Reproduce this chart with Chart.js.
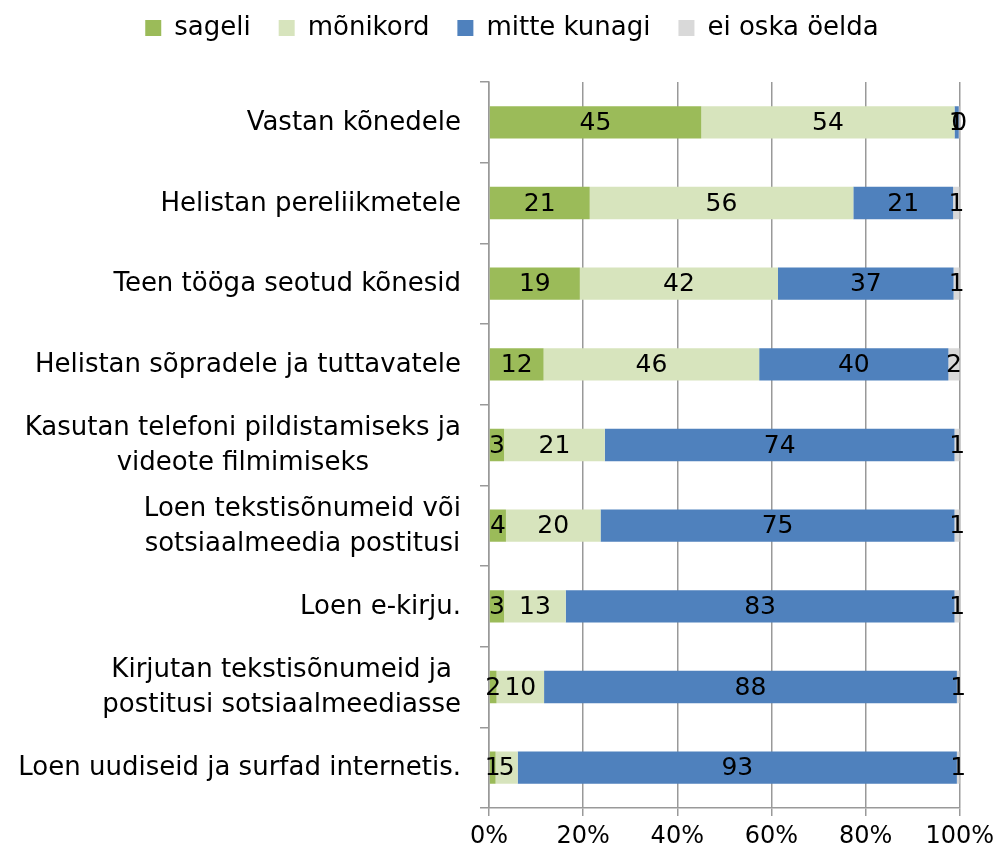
<!DOCTYPE html>
<html>
<head>
<meta charset="utf-8">
<script src="https://cdn.jsdelivr.net/npm/chart.js@4.4.1/dist/chart.umd.min.js"></script>
<style>
  html, body { margin: 0; padding: 0; background: #ffffff; }
  #wrap { width: 1000px; height: 854px; }
</style>
</head>
<body>
<div id="wrap"><canvas id="c" width="1000" height="854"></canvas></div>
<script>
const categories = [
  "Vastan kõnedele",
  "Helistan pereliikmetele",
  "Teen tööga seotud kõnesid",
  "Helistan sõpradele ja tuttavatele",
  ["Kasutan telefoni pildistamiseks ja", "videote filmimiseks"],
  ["Loen tekstisõnumeid või", "sotsiaalmeedia postitusi"],
  "Loen e-kirju.",
  ["Kirjutan tekstisõnumeid ja", "postitusi sotsiaalmeediasse"],
  "Loen uudiseid ja surfad internetis."
];
const seriesNames = ["sageli", "mõnikord", "mitte kunagi", "ei oska öelda"];
const sageli      = [45.1, 21.4, 19.3, 11.6, 3.2, 3.6, 3.2, 1.6, 1.4];
const monikord    = [53.8, 56.0, 42.1, 45.8, 21.4, 20.1, 13.1, 10.1, 4.7];
const mitteKunagi = [0.9, 21.2, 37.3, 40.2, 74.3, 75.2, 82.6, 87.7, 93.3];
const eiOska      = [0.2, 1.4, 1.3, 2.4, 1.1, 1.1, 1.1, 0.6, 0.6];
const xTicks = [0, 20, 40, 60, 80, 100];

const colors = ["#9BBB59", "#D7E4BD", "#4F81BD", "#D9D9D9"];
const FONT = "'DejaVu Sans', Verdana, sans-serif";

const PLOT_LEFT = 489, PLOT_BOTTOM = 808, PLOT_RIGHT = 960, PAD_LEFT = 64;

const legendSpacer = {
  id: 'legendSpacer',
  beforeInit(chart) {
    const fit = chart.legend.fit;
    chart.legend.fit = function () {
      fit.call(this);
      this.height += 31;
    };
  }
};

const valueLabels = {
  id: 'valueLabels',
  afterDatasetsDraw(chart) {
    const ctx = chart.ctx;
    ctx.save();
    ctx.font = "25px " + FONT;
    ctx.fillStyle = "#000000";
    ctx.textAlign = "center";
    ctx.textBaseline = "middle";
    chart.data.datasets.forEach((ds, di) => {
      const meta = chart.getDatasetMeta(di);
      meta.data.forEach((el, i) => {
        const p = el.getProps(['x', 'base', 'y'], true);
        const cx = (p.x + p.base) / 2;
        ctx.fillText(String(Math.round(ds.data[i])), cx, p.y + 1);
      });
    });
    ctx.restore();
  }
};

const yLabels = {
  id: 'yLabels',
  afterDraw(chart) {
    const ctx = chart.ctx;
    const scale = chart.scales.y;
    ctx.save();
    ctx.font = "26px " + FONT;
    ctx.fillStyle = "#000000";
    ctx.textAlign = "center";
    ctx.textBaseline = "middle";
    const right = scale.right - 28;
    const lineH = 35;
    categories.forEach((lab, i) => {
      const lines = Array.isArray(lab) ? lab : [lab];
      const maxW = Math.max(...lines.map(l => ctx.measureText(l).width));
      const cx = right - maxW / 2;
      const yc = scale.getPixelForTick(i);
      const y0 = yc - (lines.length - 1) * lineH / 2;
      lines.forEach((l, k) => ctx.fillText(l, cx, y0 + k * lineH + 1));
    });
    ctx.restore();
  }
};

const dataSets = [sageli, monikord, mitteKunagi, eiOska].map((arr, i) => ({
  label: seriesNames[i],
  data: arr,
  backgroundColor: colors[i],
  borderWidth: 0,
  barPercentage: 0.4,
  categoryPercentage: 1.0
}));

new Chart(document.getElementById('c'), {
  type: 'bar',
  data: { labels: categories, datasets: dataSets },
  plugins: [legendSpacer, valueLabels, yLabels],
  options: {
    indexAxis: 'y',
    responsive: false,
    animation: false,
    layout: { padding: { top: -13, right: 1000 - PLOT_RIGHT, bottom: 0, left: PAD_LEFT } },
    plugins: {
      legend: {
        position: 'top',
        labels: {
          font: { family: FONT, size: 26 },
          color: '#000000',
          boxWidth: 16,
          boxHeight: 16,
          padding: 28
        }
      },
      tooltip: { enabled: false }
    },
    scales: {
      x: {
        stacked: true,
        min: 0,
        max: 100,
        afterBuildTicks(scale) { scale.ticks = xTicks.map(v => ({ value: v })); },
        afterFit(scale) { scale.height = 854 - PLOT_BOTTOM; },
        ticks: {
          font: { family: FONT, size: 24 },
          color: '#000000',
          padding: 6,
          maxRotation: 0,
          callback: v => v + '%'
        },
        grid: {
          color: '#999999',
          lineWidth: 1.5,
          drawTicks: true,
          tickLength: 8,
          tickColor: '#999999'
        },
        border: { color: '#999999', width: 1.5 }
      },
      y: {
        stacked: true,
        afterFit(scale) { scale.width = PLOT_LEFT - PAD_LEFT; },
        ticks: {
          font: { family: FONT, size: 24 },
          color: 'rgba(0,0,0,0)'
        },
        grid: {
          offset: true,
          drawOnChartArea: false,
          drawTicks: true,
          tickLength: 9,
          color: '#999999',
          lineWidth: 1.5
        },
        border: { color: '#999999', width: 1.5 }
      }
    }
  }
});
</script>
</body>
</html>
